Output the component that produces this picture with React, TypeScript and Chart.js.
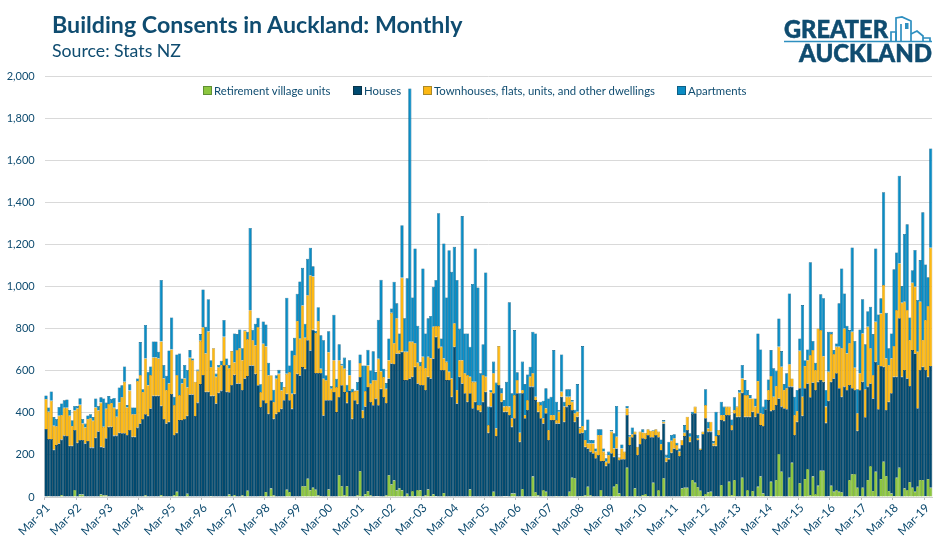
import { useEffect, useRef } from "react";
import { Chart, registerables } from "chart.js";

Chart.register(...registerables);

const FONT = "Lato, 'Open Sans', sans-serif";
const TEXT = "#0f4c70";

const yearLabels = [
  "Mar-91", "Mar-92", "Mar-93", "Mar-94", "Mar-95", "Mar-96", "Mar-97", "Mar-98", "Mar-99", "Mar-00",
  "Mar-01", "Mar-02", "Mar-03", "Mar-04", "Mar-05", "Mar-06", "Mar-07", "Mar-08", "Mar-09", "Mar-10",
  "Mar-11", "Mar-12", "Mar-13", "Mar-14", "Mar-15", "Mar-16", "Mar-17", "Mar-18", "Mar-19",
];

// one row per year, Mar to Feb
const retirement = [
  0, 5, 0, 0, 0, 0, 10, 0, 0, 0, 0, 33,
  0, 12, 12, 0, 0, 0, 0, 0, 0, 12, 8, 8,
  0, 0, 0, 0, 0, 0, 0, 0, 0, 0, 0, 0,
  0, 0, 8, 0, 0, 0, 0, 0, 10, 0, 0, 0,
  0, 10, 25, 0, 0, 0, 15, 0, 0, 0, 0, 0,
  0, 0, 0, 5, 0, 0, 0, 0, 0, 0, 12, 0,
  10, 0, 0, 8, 0, 30, 0, 0, 0, 0, 5, 0,
  24, 0, 40, 8, 0, 0, 0, 0, 35, 24, 0, 0,
  0, 0, 51, 51, 87, 32, 44, 35, 8, 5, 0, 0,
  36, 0, 0, 0, 103, 51, 8, 51, 0, 0, 0, 8,
  122, 0, 13, 27, 8, 0, 3, 3, 0, 0, 8, 103,
  60, 79, 32, 40, 32, 0, 16, 0, 28, 5, 33, 32,
  0, 8, 36, 5, 13, 3, 0, 0, 19, 0, 0, 0,
  0, 0, 0, 0, 0, 0, 36, 0, 0, 0, 0, 0,
  0, 0, 0, 25, 0, 0, 0, 3, 3, 0, 17, 17,
  0, 0, 38, 0, 0, 0, 97, 22, 8, 0, 33, 25,
  0, 0, 0, 5, 0, 5, 0, 0, 25, 92, 89, 0,
  5, 5, 8, 49, 8, 0, 0, 0, 33, 0, 5, 0,
  0, 49, 62, 17, 0, 0, 139, 0, 0, 41, 5, 0,
  10, 14, 5, 0, 68, 0, 33, 0, 89, 0, 0, 0,
  0, 0, 0, 41, 44, 44, 0, 81, 68, 46, 30, 5,
  14, 21, 25, 0, 3, 0, 57, 0, 0, 73, 10, 81,
  0, 0, 92, 0, 33, 0, 29, 0, 49, 97, 17, 5,
  5, 73, 0, 81, 204, 120, 0, 0, 92, 163, 0, 0,
  65, 0, 86, 133, 10, 97, 14, 54, 125, 125, 0, 3,
  54, 25, 33, 25, 22, 0, 0, 81, 108, 109, 44, 3,
  44, 0, 81, 147, 29, 120, 0, 86, 168, 100, 29, 17,
  5, 92, 139, 0, 41, 33, 70, 44, 25, 49, 81, 81,
  3, 86, 44,
];

const houses = [
  323, 271, 276, 225, 247, 255, 263, 292, 290, 244, 244, 286,
  258, 259, 259, 255, 266, 235, 235, 282, 312, 227, 228, 272,
  334, 334, 292, 292, 306, 303, 303, 295, 319, 287, 287, 330,
  350, 371, 385, 387, 421, 482, 482, 482, 424, 371, 350, 358,
  490, 285, 281, 366, 366, 371, 372, 488, 488, 385, 449, 537,
  580, 501, 501, 477, 482, 445, 496, 506, 628, 501, 486, 533,
  571, 540, 540, 501, 564, 545, 626, 626, 586, 531, 423, 460,
  423, 396, 420, 364, 396, 404, 420, 460, 456, 436, 420, 491,
  586, 578, 567, 559, 658, 665, 752, 555, 582, 585, 388, 460,
  424, 460, 499, 404, 373, 480, 491, 397, 507, 372, 460, 436,
  449, 376, 418, 496, 444, 436, 465, 433, 515, 476, 439, 461,
  575, 553, 651, 643, 659, 556, 540, 564, 544, 615, 507, 501,
  533, 501, 536, 559, 646, 759, 707, 604, 585, 556, 556, 477,
  715, 445, 572, 540, 493, 453, 457, 422, 453, 414, 406, 453,
  501, 306, 430, 468, 290, 533, 453, 403, 403, 390, 317, 357,
  493, 263, 455, 374, 414, 525, 428, 439, 398, 374, 317, 373,
  271, 366, 366, 345, 350, 472, 358, 430, 412, 322, 269, 382,
  298, 301, 231, 182, 208, 208, 184, 200, 138, 171, 144, 160,
  208, 143, 169, 159, 179, 179, 251, 247, 284, 257, 195, 252,
  269, 262, 290, 284, 216, 295, 251, 223, 261, 168, 179, 211,
  231, 223, 195, 206, 246, 275, 263, 314, 330, 225, 193, 295,
  360, 290, 286, 244, 241, 295, 309, 363, 390, 317, 309, 317,
  382, 382, 404, 382, 349, 382, 377, 382, 349, 245, 321, 412,
  456, 337, 414, 356, 265, 310, 422, 417, 433, 362, 295, 358,
  452, 387, 431, 407, 464, 448, 495, 494, 431, 423, 353, 455,
  494, 539, 555, 492, 455, 525, 509, 452, 409, 400, 271, 506,
  504, 379, 444, 393, 440, 523, 417, 537, 452, 314, 424, 476,
  567, 480, 711, 572, 563, 531, 458, 655, 658, 373, 523, 539,
  601, 486, 579,
];

const townhouses = [
  143, 130, 182, 114, 89, 132, 117, 133, 135, 143, 94, 93,
  163, 168, 78, 76, 105, 139, 128, 144, 100, 210, 98, 140,
  108, 113, 133, 90, 144, 171, 245, 131, 187, 106, 106, 222,
  230, 129, 266, 145, 159, 182, 182, 177, 306, 193, 159, 182,
  212, 142, 274, 119, 174, 193, 134, 174, 162, 163, 151, 206,
  227, 182, 286, 135, 225, 127, 121, 122, 134, 127, 114, 161,
  59, 159, 167, 142, 227, 176, 262, 119, 135, 277, 71, 269,
  269, 183, 119, 80, 167, 182, 87, 63, 95, 134, 71, 183,
  251, 175, 293, 148, 214, 357, 253, 190, 247, 20, 175, 95,
  229, 55, 151, 119, 174, 95, 111, 51, 72, 127, 44, 63,
  66, 36, 73, 103, 87, 119, 87, 222, 83, 95, 68, 87,
  241, 99, 167, 16, 352, 135, 135, 175, 167, 111, 99, 90,
  134, 103, 95, 96, 151, 51, 106, 111, 55, 87, 40, 87,
  111, 64, 79, 111, 95, 127, 79, 126, 95, 23, 31, 127,
  71, 36, 68, 95, 37, 185, 40, 24, 27, 40, 40, 111,
  63, 43, 16, 16, 47, 47, 63, 16, 47, 63, 24, 24,
  48, 24, 24, 16, 56, 24, 72, 47, 40, 39, 40, 24,
  24, 32, 32, 24, 39, 47, 32, 95, 124, 45, 19, 40,
  103, 39, 56, 13, 52, 37, 32, 40, 14, 13, 39, 59,
  28, 30, 27, 31, 31, 27, 27, 29, 8, 19, 5, 57,
  48, 24, 21, 24, 16, 63, 24, 0, 32, 8, 8, 11,
  63, 15, 47, 11, 46, 24, 24, 27, 40, 40, 23, 16,
  48, 114, 68, 103, 103, 87, 63, 48, 154, 56, 57, 0,
  48, 165, 63, 91, 246, 190, 87, 100, 106, 39, 95, 51,
  179, 90, 106, 111, 201, 154, 95, 254, 238, 122, 77, 138,
  227, 116, 127, 198, 230, 277, 174, 198, 269, 106, 83, 79,
  230, 133, 285, 167, 111, 191, 211, 250, 388, 245, 175, 166,
  146, 317, 261, 352, 325, 325, 219, 320, 317, 269, 325, 127,
  238, 336, 563,
];

const apartments = [
  17, 20, 44, 41, 35, 41, 55, 35, 39, 27, 27, 21,
  12, 31, 22, 18, 17, 19, 17, 43, 21, 25, 135, 30,
  38, 19, 46, 35, 71, 57, 73, 11, 30, 33, 33, 12,
  157, 12, 159, 64, 41, 76, 76, 32, 292, 64, 68, 157,
  152, 40, 98, 198, 24, 64, 83, 37, 9, 0, 7, 32,
  180, 127, 154, 34, 0, 15, 11, 20, 80, 31, 16, 0,
  138, 76, 90, 56, 3, 35, 392, 51, 103, 45, 37, 106,
  105, 60, 0, 58, 16, 19, 40, 0, 362, 32, 206, 84,
  130, 272, 179, 66, 174, 132, 48, 10, 66, 159, 182, 24,
  99, 13, 217, 40, 76, 8, 53, 35, 71, 16, 3, 40,
  41, 214, 122, 74, 63, 138, 39, 185, 435, 39, 27, 103,
  21, 293, 71, 79, 250, 159, 349, 1204, 210, 451, 176, 20,
  420, 166, 183, 201, 190, 219, 536, 39, 547, 306, 578, 507,
  364, 523, 149, 685, 190, 198, 143, 465, 634, 560, 151, 147,
  496, 88, 11, 56, 217, 0, 24, 31, 115, 496, 119, 309,
  37, 187, 135, 147, 122, 48, 198, 301, 0, 16, 84, 95,
  150, 87, 309, 87, 8, 177, 23, 35, 35, 8, 17, 131,
  7, 380, 48, 114, 16, 16, 15, 27, 27, 15, 16, 16,
  8, 72, 146, 0, 19, 0, 11, 8, 33, 0, 0, 0,
  15, 0, 0, 0, 4, 0, 0, 22, 8, 13, 79, 27,
  19, 11, 15, 0, 36, 0, 16, 11, 0, 16, 0, 0,
  75, 32, 0, 11, 116, 0, 63, 40, 0, 0, 27, 60,
  3, 13, 64, 71, 24, 16, 0, 39, 226, 304, 35, 47,
  50, 124, 135, 73, 134, 74, 28, 71, 337, 0, 87, 100,
  58, 436, 28, 51, 441, 43, 35, 0, 170, 275, 79, 190,
  11, 19, 15, 206, 380, 166, 132, 63, 401, 127, 114, 209,
  162, 214, 74, 198, 195, 348, 240, 72, 441, 217, 79, 119,
  365, 274, 417, 79, 322, 408, 107, 60, 175, 246, 198, 607,
  264, 137, 472,
];

const months = houses.map((_, i) => (i % 12 === 0 ? yearLabels[i / 12] : ""));

const legendItems = [
  { label: "Retirement village units", color: "#8cc63f", border: "#5f8f35", left: 203 },
  { label: "Houses", color: "#004a70", border: "#093349", left: 353 },
  { label: "Townhouses, flats, units, and other dwellings", color: "#fdb813", border: "#a9882a", left: 423 },
  { label: "Apartments", color: "#0a8cc4", border: "#0e5f85", left: 677 },
];

const seriesData = [retirement, houses, townhouses, apartments];

const Logo = () => (
  <svg width="160" height="56" viewBox="0 0 160 56" style={{ position: "absolute", left: 780, top: 12 }}>
    <g fontFamily="Lato" fontWeight="900" fontSize="24" fill="#0f4c70" stroke="#0f4c70" strokeWidth="0.5">
      <text x="4" y="26" textLength="104" lengthAdjust="spacingAndGlyphs">
        GREATER
      </text>
      <text x="19" y="50" textLength="133" lengthAdjust="spacingAndGlyphs">
        AUCKLAND
      </text>
    </g>
    <path d="M4 29.5 H152" stroke="#2e8fc0" strokeWidth="1.6" />
    <g fill="none" stroke="#2e8fc0" strokeWidth="1.7">
      <path d="M111 29 V20 H116 V29" />
      <path d="M116 29 V6 L122 5 L131 9 V29" />
      <rect x="125" y="11" width="3.5" height="6" fill="#2e8fc0" stroke="none" />
      <path d="M121 29 V12" />
      <path d="M131 22 L137 19 L143 24 V29" />
      <path d="M143 26 L150 26 V29" />
    </g>
  </svg>
);

const App = () => {
  const chartRef = useRef<HTMLCanvasElement>(null);

  useEffect(() => {
    if (!chartRef.current) return;

    const chart = new Chart(chartRef.current, {
      type: "bar",
      data: {
        labels: months,
        datasets: legendItems.map((item, i) => ({
          label: item.label,
          data: seriesData[i],
          backgroundColor: item.color,
          borderColor: item.border,
          borderWidth: 0.6,
          barPercentage: 1.25,
          categoryPercentage: 1,
          clip: 2,
        })),
      },
      options: {
        responsive: false,
        animation: false,
        layout: { padding: { top: 76.5, right: 18 } },
        plugins: {
          legend: { display: false },
          tooltip: { enabled: false },
        },
        scales: {
          x: {
            stacked: true,
            afterFit: (scale) => {
              scale.height = 53;
            },
            border: { color: "#cfcfcf" },
            grid: {
              offset: true,
              drawOnChartArea: false,
              tickLength: 3,
              tickColor: (ctx) => (ctx.index % 12 === 0 ? "#bdbdbd" : "rgba(0,0,0,0)"),
            },
            ticks: {
              autoSkip: false,
              minRotation: 45,
              maxRotation: 45,
              padding: 1,
              labelOffset: 2,
              color: TEXT,
              font: { family: FONT, size: 11.8 },
            },
          },
          y: {
            stacked: true,
            min: 0,
            max: 2000,
            afterFit: (scale) => {
              scale.width = 44.7;
            },
            border: { display: false },
            grid: { color: "#d9d9d9", drawTicks: false },
            ticks: {
              stepSize: 200,
              padding: 10,
              color: TEXT,
              font: { family: FONT, size: 11 },
            },
          },
        },
      },
    });

    return () => {
      chart.destroy();
    };
  }, []);

  return (
    <div style={{ position: "absolute", left: 0, top: 0, width: 950, height: 550, background: "#fff", fontFamily: FONT, color: TEXT }}>
      <canvas ref={chartRef} width={950} height={550} style={{ position: "absolute", left: 0, top: 0 }} />
      <div style={{ position: "absolute", left: 52, top: 10, fontSize: 23.2, fontWeight: 700, whiteSpace: "nowrap" }}>
        Building Consents in Auckland: Monthly
      </div>
      <div style={{ position: "absolute", left: 52, top: 40, fontSize: 17.7, whiteSpace: "nowrap" }}>Source: Stats NZ</div>
      {legendItems.map((item) => (
        <div
          key={item.label}
          style={{ position: "absolute", left: item.left, top: 84, fontSize: 11.35, lineHeight: "14px", whiteSpace: "nowrap" }}
        >
          <span
            style={{
              display: "inline-block",
              width: 7,
              height: 7,
              marginRight: 2,
              background: item.color,
              border: `0.5px solid ${item.border}`,
            }}
          />
          {item.label}
        </div>
      ))}
      <Logo />
    </div>
  );
};

export default App;
